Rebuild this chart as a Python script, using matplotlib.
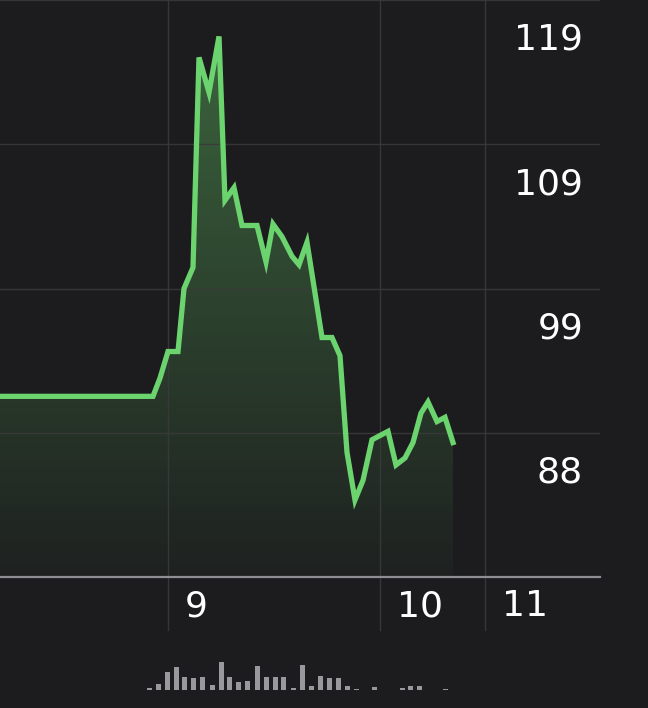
import numpy as np
import matplotlib.pyplot as plt
from matplotlib.colors import LinearSegmentedColormap

# price series (x = time position on the chart, y = price)
times = [0, 153, 160, 168, 178, 184, 193, 199, 209, 219, 225, 234, 242, 257,
         266, 273, 282, 292, 299, 307, 322, 332, 340, 347, 355, 363, 372, 380,
         388, 396, 405, 413, 421, 428, 437, 445, 453]
prices = [91.0, 91.0, 92.3, 94.2, 94.2, 98.7, 100.2, 115.2, 112.7, 116.7, 105.0,
          105.9, 103.2, 103.2, 100.6, 103.3, 102.4, 101.0, 100.4, 102.0, 95.2,
          95.2, 93.9, 87.0, 83.6, 85.0, 87.9, 88.2, 88.5, 86.1, 86.6, 87.7, 89.8,
          90.6, 89.2, 89.5, 87.7]

# volume bars
vol_times = [149, 158, 167, 176, 184, 193, 202, 212, 221, 229, 238, 247, 257,
             266, 275, 283, 293, 302, 311, 320, 329, 338, 347, 356, 374, 402,
             410, 419, 445]
volumes = [2, 6, 18, 23, 13, 12, 13, 5, 28, 13, 8, 9, 24, 13, 13, 13, 2, 25,
           4, 14, 12, 12, 4, 1, 3, 2, 4, 4, 1]

grid_levels = [119.3, 109.0, 98.7, 88.4]
price_labels = ['119', '109', '99', '88']
day_ticks = [168, 380, 485]
day_labels = ['9', '10', '11']

bg = '#1c1c1e'
green = '#6cd46e'
grid_col = '#3a3a3c'
font = 'DejaVu Sans'

fig = plt.figure(figsize=(6.48, 7.08), dpi=100, facecolor=bg)
ax = fig.add_axes([0, 131 / 708, 600 / 648, 577 / 708])
ax.set_facecolor(bg)
ax.set_xlim(0, 600)
ax.set_ylim(78.1, 119.3)
for s in ax.spines.values():
    s.set_visible(False)
ax.set_xticks([])
ax.set_yticks([])

for g in grid_levels:
    ax.axhline(g, color=grid_col, lw=1.0, alpha=0.9, zorder=3)
ax.axhline(78.1, color='#8e8e93', lw=1.6, zorder=4, clip_on=False)
for t in day_ticks:
    ax.axvline(t, ymin=-53 / 577, ymax=1, color=grid_col, lw=1.0, alpha=0.9,
               zorder=3, clip_on=False)

# gradient fill under the line
cmap = LinearSegmentedColormap.from_list('g', [(0.42, 0.83, 0.43, 0.03), (0.42, 0.83, 0.43, 0.22),
                                               (0.42, 0.83, 0.43, 0.42)])
grad = np.linspace(0, 1, 256).reshape(-1, 1)
fill = ax.fill_between(times, prices, 78.1, color='none', lw=0)
img = ax.imshow(grad, cmap=cmap, extent=[0, 600, 78.1, 119.3], origin='lower',
                aspect='auto', zorder=2)
img.set_clip_path(fill.get_paths()[0], transform=ax.transData)

ax.plot(times, prices, color=green, lw=3.8, solid_joinstyle='miter', zorder=5)

for g, lab in zip(grid_levels, price_labels):
    ax.text(583, g - 2.85, lab, color='white', fontsize=26, family=font,
            ha='right', va='center', zorder=6)

for t, lab in zip(day_ticks, day_labels):
    ax.text(t + 17, 78.1 - 2.1, lab, color='white', fontsize=26, family=font,
            ha='left', va='center', clip_on=False)

# volume panel
vax = fig.add_axes([0, 18 / 708, 600 / 648, 50 / 708])
vax.set_facecolor(bg)
vax.set_xlim(0, 600)
vax.set_ylim(0, 50)
vax.axis('off')
vax.bar(vol_times, volumes, width=5, color='#98989d', bottom=0)

fig.savefig('out.png', dpi=100, facecolor=bg)
